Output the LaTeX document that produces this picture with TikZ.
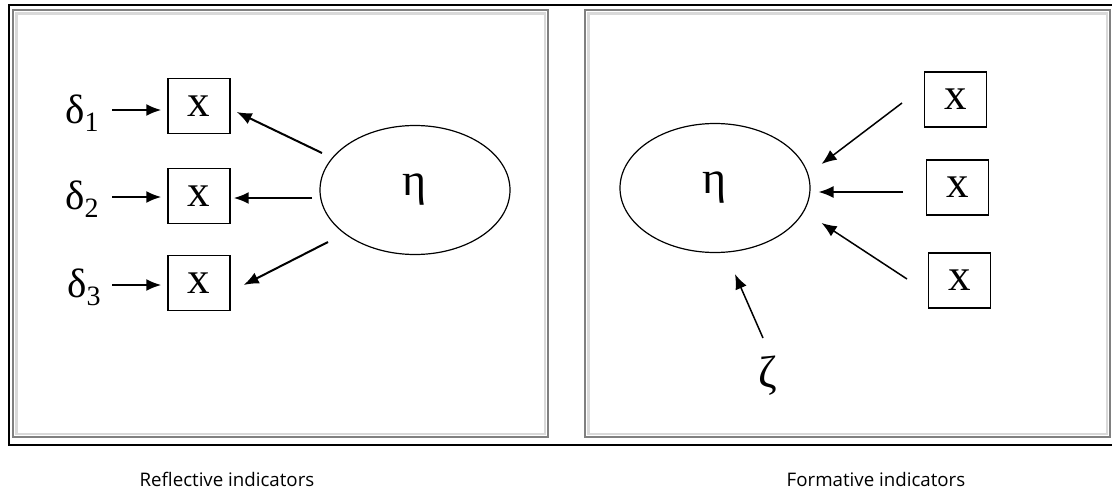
\documentclass[tikz,border=0pt]{standalone}
\usepackage{fontspec}
\setmainfont{Liberation Serif}
\newfontfamily\capfont{Open Sans}
\usetikzlibrary{arrows.meta,shapes.geometric,calc}
\tikzset{
  box/.style={draw, line width=1.4pt, minimum width=62pt, minimum height=55pt, inner sep=0pt, font=\fontsize{45}{45}\selectfont},
  latent/.style={draw, ellipse, line width=1.2pt, minimum width=190pt, minimum height=129pt, inner sep=0pt, font=\fontsize{46}{46}\selectfont},
  arr/.style={line width=2pt, -{Latex[length=15pt,width=12pt]}},
  arrthin/.style={line width=1.5pt, -{Latex[length=15pt,width=12pt]}},
  lbl/.style={inner sep=0pt, font=\fontsize{41}{41}\selectfont},
  captiontext/.style={inner sep=0pt, font=\capfont\fontsize{18.7}{20}\selectfont},
  panelouter/.style={draw=black!50, line width=1.8pt},
  panelinner/.style={draw=black!15, line width=2.5pt},
}
\newcommand{\dsub}[1]{δ\raisebox{-0.2em}{\fontsize{28}{28}\selectfont #1}}
\begin{document}
\begin{tikzpicture}[x=1pt,y=-1pt]
\useasboundingbox (0,0) rectangle (1112,493);
% frames
\draw[black, line width=1.6pt] (9,5) rectangle (1120,445);
\draw[panelinner] (16.5,13.5) rectangle (545,434);
\draw[panelouter] (13,10) rectangle (548,437);
\draw[panelinner] (588.5,13.5) rectangle (1107,434);
\draw[panelouter] (585,10) rectangle (1110,437);

% left panel: reflective
\node[box] (b1) at (199,106) {x};
\node[box] (b2) at (199,196) {x};
\node[box] (b3) at (199,283) {x};
\node[lbl] (d1) at (82,113) {\dsub{1}};
\node[lbl] (d2) at (82,199) {\dsub{2}};
\node[lbl] (d3) at (84,287) {\dsub{3}};
\node[latent] (eta1) at (415,190) {η};
\coordinate (r1) at (322,153);
\coordinate (r2) at (312,198);
\coordinate (r3) at (328,242);
\draw[arr] (112,110) -- ($(b1.west)+(-6,4)$);
\draw[arr] (112,197) -- ($(b2.west)+(-6,1)$);
\draw[arr] (112,285) -- ($(b3.west)+(-6,2)$);
\draw[arr] (r1) -- ($(b1.east)+(6,6)$);
\draw[arr] (r2) -- ($(b2.east)+(3,2)$);
\draw[arr] (r3) -- ($(b3.east)+(13,2)$);

% right panel: formative
\node[latent] (eta2) at (715,188) {η};
\node[box] (c1) at (955.5,99.5) {x};
\node[box] (c2) at (957.5,187.5) {x};
\node[box] (c3) at (959.5,280.5) {x};
\node[lbl, font=\fontsize{45}{45}\selectfont] (zeta) at (768,376) {ζ};
\coordinate (f1) at (902,103);
\coordinate (f2) at (903,192);
\coordinate (f3) at (907,279);
\coordinate (fz) at (763,338);
\draw[arrthin] (f1) -- ($(eta2.east)+(11,-24)$);
\draw[arrthin] (f2) -- ($(eta2.east)+(8,4)$);
\draw[arrthin] (f3) -- ($(eta2.east)+(11,35)$);
\draw[arrthin] (fz) -- ($(eta2.south)+(20,21)$);

% captions
\node[captiontext] (capL) at (227,479) {Reflective indicators};
\node[captiontext] (capR) at (876,479) {Formative indicators};
\end{tikzpicture}
\end{document}
